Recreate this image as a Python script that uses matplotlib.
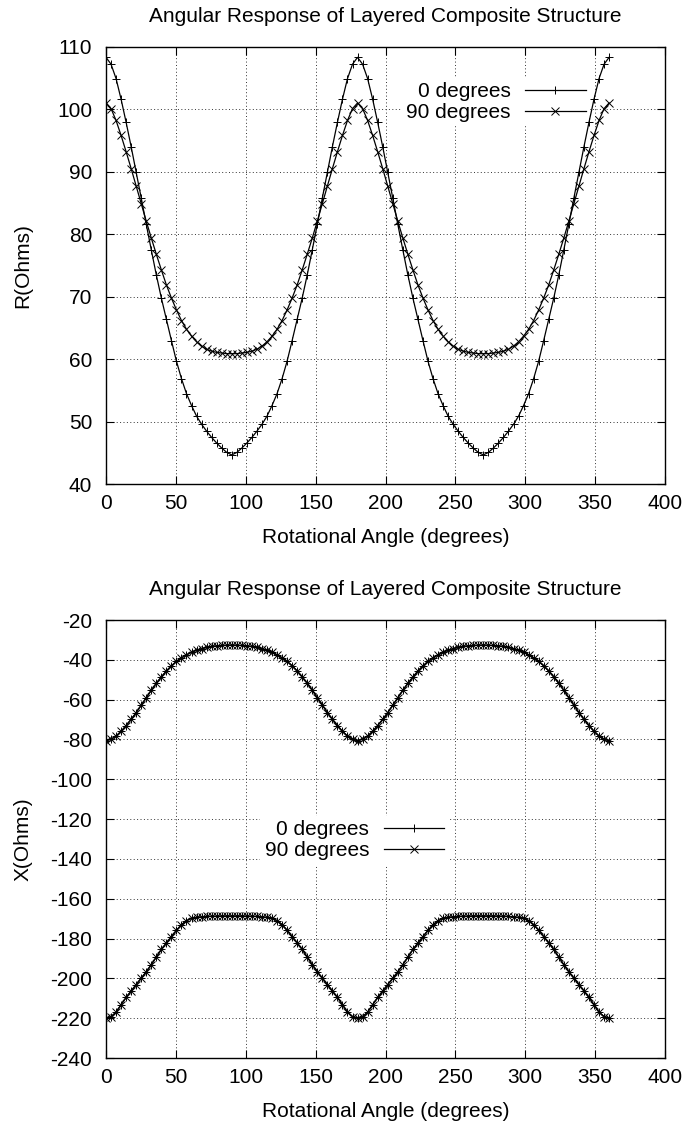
import numpy as np
import matplotlib
matplotlib.use("Agg")
import matplotlib.pyplot as plt

plt.rcParams['font.family'] = ['Liberation Sans', 'DejaVu Sans']
plt.rcParams['font.size'] = 15
plt.rcParams['axes.unicode_minus'] = False

# sampling grid: markers every 3.6 degrees from 0 to 360
ANGLES = np.linspace(0, 360, 101)

R_0DEG = [
    108.3, 107.2, 104.9, 101.6, 97.9, 94.0, 89.9, 85.8, 81.6, 77.5,
    73.5, 69.8, 66.4, 63.0, 59.7, 56.9, 54.5, 52.6, 50.9, 49.6,
    48.5, 47.5, 46.6, 45.8, 45.1, 44.7, 45.1, 45.8, 46.6, 47.5,
    48.5, 49.6, 50.9, 52.6, 54.5, 56.9, 59.7, 63.0, 66.4, 69.8,
    73.5, 77.5, 81.6, 85.8, 89.9, 94.0, 97.9, 101.6, 104.9, 107.2,
    108.3, 107.2, 104.9, 101.6, 97.9, 94.0, 89.9, 85.8, 81.6, 77.5,
    73.5, 69.8, 66.4, 63.0, 59.7, 56.9, 54.5, 52.6, 50.9, 49.6,
    48.5, 47.5, 46.6, 45.8, 45.1, 44.7, 45.1, 45.8, 46.6, 47.5,
    48.5, 49.6, 50.9, 52.6, 54.5, 56.9, 59.7, 63.0, 66.4, 69.8,
    73.5, 77.5, 81.6, 85.8, 89.9, 94.0, 97.9, 101.6, 104.9, 107.2,
    108.3]

R_90DEG = [
    101.0, 100.1, 98.2, 95.8, 93.2, 90.5, 87.7, 84.9, 82.1, 79.4,
    76.8, 74.3, 71.9, 69.8, 67.9, 66.2, 64.8, 63.7, 62.8, 62.1,
    61.6, 61.3, 61.1, 61.0, 60.9, 60.9, 60.9, 61.0, 61.1, 61.3,
    61.6, 62.1, 62.8, 63.7, 64.8, 66.2, 67.9, 69.8, 71.9, 74.3,
    76.8, 79.4, 82.1, 84.9, 87.7, 90.5, 93.2, 95.8, 98.2, 100.1,
    101.0, 100.1, 98.2, 95.8, 93.2, 90.5, 87.7, 84.9, 82.1, 79.4,
    76.8, 74.3, 71.9, 69.8, 67.9, 66.2, 64.8, 63.7, 62.8, 62.1,
    61.6, 61.3, 61.1, 61.0, 60.9, 60.9, 60.9, 61.0, 61.1, 61.3,
    61.6, 62.1, 62.8, 63.7, 64.8, 66.2, 67.9, 69.8, 71.9, 74.3,
    76.8, 79.4, 82.1, 84.9, 87.7, 90.5, 93.2, 95.8, 98.2, 100.1,
    101.0]

X_UPPER = [
    -80.6, -79.9, -78.3, -75.9, -73.0, -69.9, -66.5, -62.8, -59.0, -55.3,
    -51.8, -48.6, -45.6, -43.0, -40.8, -39.0, -37.5, -36.2, -35.2, -34.4,
    -33.8, -33.3, -33.0, -32.8, -32.7, -32.6, -32.7, -32.8, -33.0, -33.3,
    -33.8, -34.4, -35.2, -36.2, -37.5, -39.0, -40.8, -43.0, -45.6, -48.6,
    -51.8, -55.3, -59.0, -62.8, -66.5, -69.9, -73.0, -75.9, -78.3, -79.9,
    -80.6, -79.9, -78.3, -75.9, -73.0, -69.9, -66.5, -62.8, -59.0, -55.3,
    -51.8, -48.6, -45.6, -43.0, -40.8, -39.0, -37.5, -36.2, -35.2, -34.4,
    -33.8, -33.3, -33.0, -32.8, -32.7, -32.6, -32.7, -32.8, -33.0, -33.3,
    -33.8, -34.4, -35.2, -36.2, -37.5, -39.0, -40.8, -43.0, -45.6, -48.6,
    -51.8, -55.3, -59.0, -62.8, -66.5, -69.9, -73.0, -75.9, -78.3, -79.9,
    -80.6]

X_LOWER = [
    -219.9, -219.2, -217.0, -213.2, -209.6, -206.3, -203.1, -199.9, -196.7, -193.1,
    -189.3, -185.5, -182.2, -179.0, -175.9, -173.0, -171.0, -169.9, -169.4, -169.1,
    -168.9, -168.8, -168.8, -168.7, -168.7, -168.7, -168.7, -168.7, -168.8, -168.8,
    -168.9, -169.1, -169.4, -169.9, -171.0, -173.0, -175.9, -179.0, -182.2, -185.5,
    -189.3, -193.1, -196.7, -199.9, -203.1, -206.3, -209.6, -213.2, -217.0, -219.2,
    -219.9, -219.2, -217.0, -213.2, -209.6, -206.3, -203.1, -199.9, -196.7, -193.1,
    -189.3, -185.5, -182.2, -179.0, -175.9, -173.0, -171.0, -169.9, -169.4, -169.1,
    -168.9, -168.8, -168.8, -168.7, -168.7, -168.7, -168.7, -168.7, -168.8, -168.8,
    -168.9, -169.1, -169.4, -169.9, -171.0, -173.0, -175.9, -179.0, -182.2, -185.5,
    -189.3, -193.1, -196.7, -199.9, -203.1, -206.3, -209.6, -213.2, -217.0, -219.2,
    -219.9]

# in the X plot the two orientations lie on top of each other
X_0DEG_UP, X_0DEG_LO = X_UPPER, X_LOWER
X_90DEG_UP, X_90DEG_LO = X_UPPER, X_LOWER

TITLE = "Angular Response of Layered Composite Structure"
XTICKS = [0, 50, 100, 150, 200, 250, 300, 350, 400]
R_TICKS = [40, 50, 60, 70, 80, 90, 100, 110]
X_TICKS = [-240, -220, -200, -180, -160, -140, -120, -100, -80, -60, -40, -20]


def style_axes(ax, yticks, ylabel):
    ax.set_xlim(0, 400)
    ax.set_ylim(yticks[0], yticks[-1])
    ax.set_xticks(XTICKS)
    ax.set_yticks(yticks)
    ax.set_axisbelow(True)
    ax.grid(True, linestyle=(0, (1, 2.5)), color='#333333', linewidth=0.7)
    ax.tick_params(direction='in', top=True, right=True, length=5.5, width=0.8)
    ax.tick_params(axis='y', pad=10)
    ax.tick_params(axis='x', pad=7)
    for s in ax.spines.values():
        s.set_linewidth(1.0)
    ax.set_title(TITLE, pad=18, fontsize=15)
    ax.set_xlabel("Rotational Angle (degrees)")
    ax.set_ylabel(ylabel)
    ax.yaxis.set_label_coords(-0.132, 0.5)
    ax.xaxis.set_label_coords(0.5, -0.100)


W, H = 689, 1129
fig = plt.figure(figsize=(W / 100, H / 100), dpi=100)
ax1 = fig.add_axes([106 / W, (H - 484.3) / H, 559 / W, 437.6 / H])
ax2 = fig.add_axes([106 / W, (H - 1058) / H, 559 / W, 438 / H])

line_kw = dict(color='black', linewidth=0.9, markersize=5.5, markeredgewidth=0.7)

ax1.plot(ANGLES, R_0DEG, marker='+', label='0 degrees', **line_kw)
ax1.plot(ANGLES, R_90DEG, marker='x', label='90 degrees', **line_kw)
style_axes(ax1, R_TICKS, "R(Ohms)")

gap = [np.nan]
xx = np.concatenate([ANGLES, gap, ANGLES])
ax2.plot(xx, np.concatenate([X_0DEG_UP, gap, X_0DEG_LO]), marker='+', label='0 degrees', **line_kw)
ax2.plot(xx, np.concatenate([X_90DEG_UP, gap, X_90DEG_LO]), marker='x', label='90 degrees', **line_kw)
style_axes(ax2, X_TICKS, "X(Ohms)")

leg_kw = dict(loc='center right', markerfirst=False, frameon=True, facecolor='white',
              edgecolor='none', framealpha=1, fancybox=False, borderpad=0.2,
              labelspacing=0.1, handlelength=2.9, handletextpad=0.7, fontsize=15)
leg1 = ax1.legend(bbox_to_anchor=(0.884, 0.874), **leg_kw)
leg2 = ax2.legend(bbox_to_anchor=(0.631, 0.497), **leg_kw)
# key box hides the grid but not the curves
leg1.set_zorder(1.5)
leg2.set_zorder(1.5)

fig.savefig("out.png", dpi=100)
